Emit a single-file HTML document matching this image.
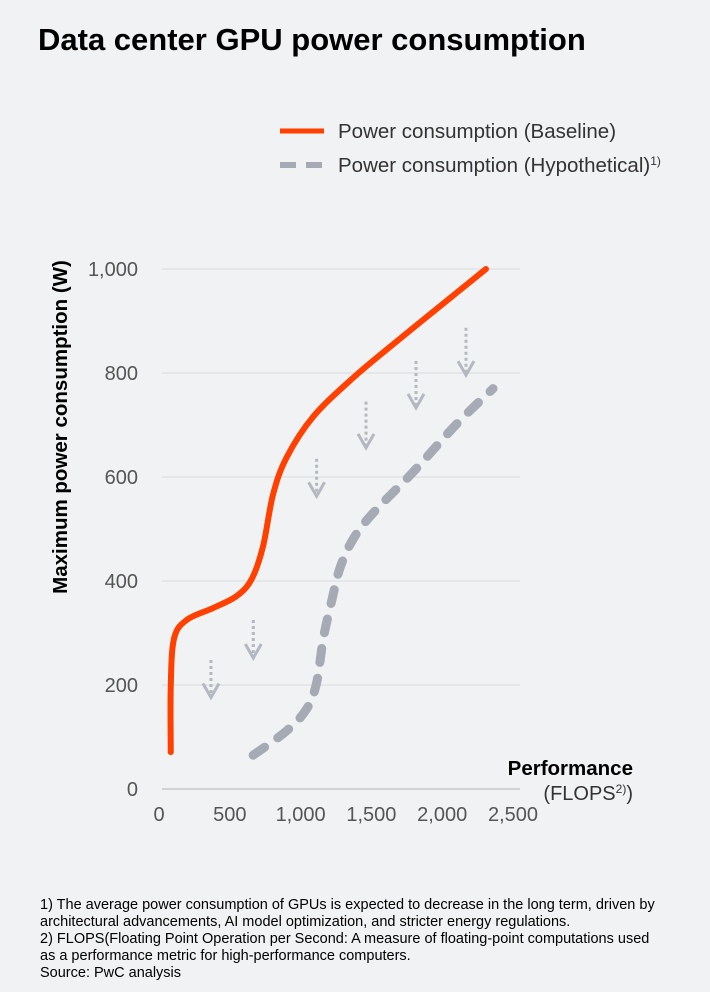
<!DOCTYPE html>
<html><head><meta charset="utf-8"><style>
body{margin:0;width:710px;height:992px;background:#f1f2f4;font-family:"Liberation Sans",sans-serif;overflow:hidden;position:relative}
.t{position:absolute;color:#000}
</style></head><body>
<div class="t" style="left:38px;top:22px;font-size:31px;font-weight:bold">Data center GPU power consumption</div>
<svg width="710" height="992" style="position:absolute;left:0;top:0">
<g>
<line x1="280" y1="131" x2="324" y2="131" stroke="#ff4000" stroke-width="5"/>
<text x="338" y="138" font-size="20.5" fill="#333">Power consumption (Baseline)</text>
<line x1="280" y1="165" x2="324" y2="165" stroke="#a5aab4" stroke-width="6" stroke-dasharray="16,10"/>
<text x="338" y="172" font-size="20.5" fill="#333">Power consumption (Hypothetical)<tspan font-size="12" dy="-7">1)</tspan></text>
</g>
<g id="grid"></g><g id="ylab"></g><g id="xlab"></g><g id="arrows"></g><g id="series"></g>
<text x="0" y="0" transform="translate(67,427) rotate(-90)" text-anchor="middle" font-size="20.5" font-weight="bold">Maximum power consumption (W)</text>
<text x="633" y="775" text-anchor="end" font-size="20.5" font-weight="bold">Performance</text>
<text x="633" y="800" text-anchor="end" font-size="20" fill="#333">(FLOPS<tspan font-size="12" dy="-7">2)</tspan><tspan dy="7">)</tspan></text>
</svg>
<div class="t" style="left:40px;top:897px;font-size:14.5px;line-height:17px;width:622px">1) The average power consumption of GPUs is expected to decrease in the long term, driven by architectural advancements, AI model optimization, and stricter energy regulations.<br>2) FLOPS(Floating Point Operation per Second: A measure of floating-point computations used as a performance metric for high-performance computers.<br>Source: PwC analysis</div>
<script>
const yTicks=[0,200,400,600,800,1000];
const yTickLabels=["0","200","400","600","800","1,000"];
const xTicks=[0,500,1000,1500,2000,2500];
const xTickLabels=["0","500","1,000","1,500","2,000","2,500"];
const baselinePerf=[83,83,106,195,382,548,655,735,806,902,1089,1372,1702,2055,2309];
const baselineW=[71,197,289,325,348,371,404,467,567,638,716,791,866,944,1000];
const hypoPerf=[665,902,1043,1113,1160,1219,1278,1372,1513,1796,2102,2359];
const hypoW=[65,112,154,204,289,361,425,481,531,610,702,770];
const arrowPerf=[367,666,1113,1462,1815,2168];
const arrowTopW=[248,325,635,745,823,887];
const arrowTipW=[176,252,563,656,733,796];
const X=v=>159+v*0.1416, Y=v=>789-v*0.52;
const NS="http://www.w3.org/2000/svg";
function mk(tag,parent,attrs){const e=document.createElementNS(NS,tag);for(const k in attrs)e.setAttribute(k,attrs[k]);document.getElementById(parent).appendChild(e);return e;}
yTicks.forEach((t,i)=>{
 const l=mk('line','grid',{x1:162,x2:520,y1:Y(t),y2:Y(t),stroke:t===0?'#c8c8c8':'#d9dadc','stroke-width':t===0?1.5:1});
 
 
 const tx=mk('text','ylab',{x:138,y:Y(t)+7,'text-anchor':'end','font-size':20,fill:'#555'});
 tx.textContent=yTickLabels[i];
 
 
});
xTicks.forEach((t,i)=>{
 const tx=mk('text','xlab',{x:X(t),y:821,'text-anchor':'middle','font-size':20,fill:'#555'});
 tx.textContent=xTickLabels[i];
 
 
});
function smooth(px,py){let p=px.map((v,i)=>[X(v),Y(py[i])]);let d='M'+p[0][0]+','+p[0][1];
 for(let i=0;i<p.length-1;i++){const p0=p[i-1]||p[i],p1=p[i],p2=p[i+1],p3=p[i+2]||p2;
 d+=' C'+(p1[0]+(p2[0]-p0[0])/6)+','+(p1[1]+(p2[1]-p0[1])/6)+' '+(p2[0]-(p3[0]-p1[0])/6)+','+(p2[1]-(p3[1]-p1[1])/6)+' '+p2[0]+','+p2[1];}
 return d;}
arrowPerf.forEach((p,i)=>{
 const x=X(p),t=Y(arrowTopW[i]),b=Y(arrowTipW[i]);
 const l=mk('line','arrows',{x1:x,x2:x,y1:t,y2:b-3,stroke:'#b4b8c0','stroke-width':3,'stroke-dasharray':'3,3'});
 
 
 const h=mk('path','arrows',{d:`M${x-8},${b-14} L${x},${b} L${x+8},${b-14}`,fill:'none',stroke:'#b4b8c0','stroke-width':3});
 
 
});
const hp=mk('path','series',{d:smooth(hypoPerf,hypoW),fill:'none',stroke:'#a5aab4','stroke-width':9,'stroke-linecap':'round','stroke-dasharray':'14,16'});


const bp=mk('path','series',{d:smooth(baselinePerf,baselineW),fill:'none',stroke:'#ff4000','stroke-width':6,'stroke-linecap':'round'});


</script>
</body></html>
